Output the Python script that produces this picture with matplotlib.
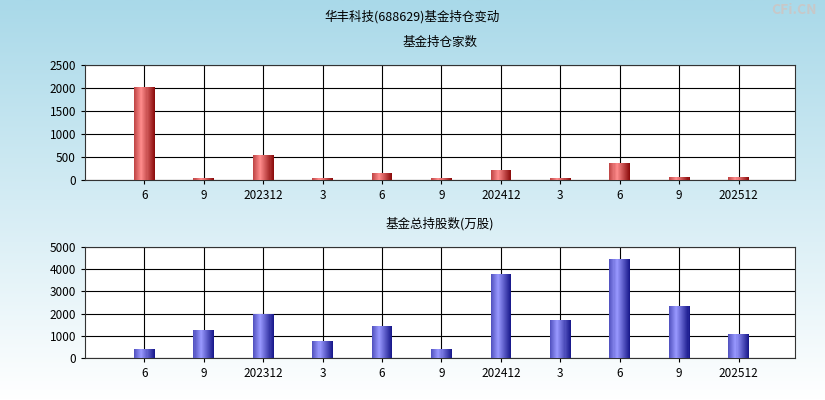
import matplotlib
matplotlib.use("Agg")
import matplotlib.pyplot as plt
import numpy as np
from matplotlib.colors import LinearSegmentedColormap

plt.rcParams['font.family'] = ['Noto Sans CJK SC', 'DejaVu Sans']

labels = ["6", "9", "202312", "3", "6", "9", "202412", "3", "6", "9", "202512"]
funds = [2020, 35, 550, 35, 150, 35, 220, 35, 360, 60, 60]
shares = [420, 1270, 1990, 780, 1450, 400, 3800, 1730, 4480, 2340, 1080]

W, H = 825, 400
fig = plt.figure(figsize=(W/100, H/100), dpi=100)
bg = fig.add_axes([0, 0, 1, 1], zorder=-10)
grad = np.linspace(0, 1, 256).reshape(-1, 1)
cm = LinearSegmentedColormap.from_list("bg", ["#a9d9e9", "#ffffff"])
bg.imshow(grad, aspect='auto', cmap=cm, extent=[0, 1, 0, 1])
bg.axis('off')

fig.text(0.5, 1-17/H, "华丰科技(688629)基金持仓变动", ha='center', va='center', fontsize=9)
fig.text(0.99, 1-10/H, "CFi.CN", ha='right', va='center', fontsize=10, color='#c8c8c8', weight='bold')

def cyl_colors(ax, x, vals, dark, light):
    w = 0.35
    n = 20
    for xi, v in zip(x, vals):
        for k in range(n):
            t = k/(n-1)
            f = 1 - abs(t-0.35)/0.65
            c = np.array(dark)*(1-f) + np.array(light)*f
            ax.bar(xi - w/2 + k*w/n, v, width=w/n, align='edge', color=c, linewidth=0, zorder=3)

def setup(ax, vals, ymax, step, title, dark, light):
    ax.set_facecolor('white')
    x = np.arange(len(vals))
    cyl_colors(ax, x, vals, dark, light)
    ax.set_xlim(-1, len(vals) - 0.05)
    ax.set_ylim(0, ymax)
    ax.set_yticks(np.arange(0, ymax+1, step))
    ax.set_xticks(x)
    ax.set_xticklabels(labels)
    ax.tick_params(labelsize=8.5, length=3)
    ax.grid(True, color='black', linewidth=0.8, zorder=0)
    for s in ax.spines.values():
        s.set_color('#333333')
    ax.set_title(title, fontsize=9, pad=14)

ax1 = fig.add_axes([85/W, 1-180/H, 710/W, 115/H])
setup(ax1, funds, 2500, 500, "基金持仓家数", (0.55, 0.05, 0.05), (1.0, 0.55, 0.55))
ax2 = fig.add_axes([85/W, 1-358/H, 710/W, 111/H])
setup(ax2, shares, 5000, 1000, "基金总持股数(万股)", (0.1, 0.1, 0.55), (0.6, 0.6, 1.0))

fig.savefig("out.png", dpi=100)
